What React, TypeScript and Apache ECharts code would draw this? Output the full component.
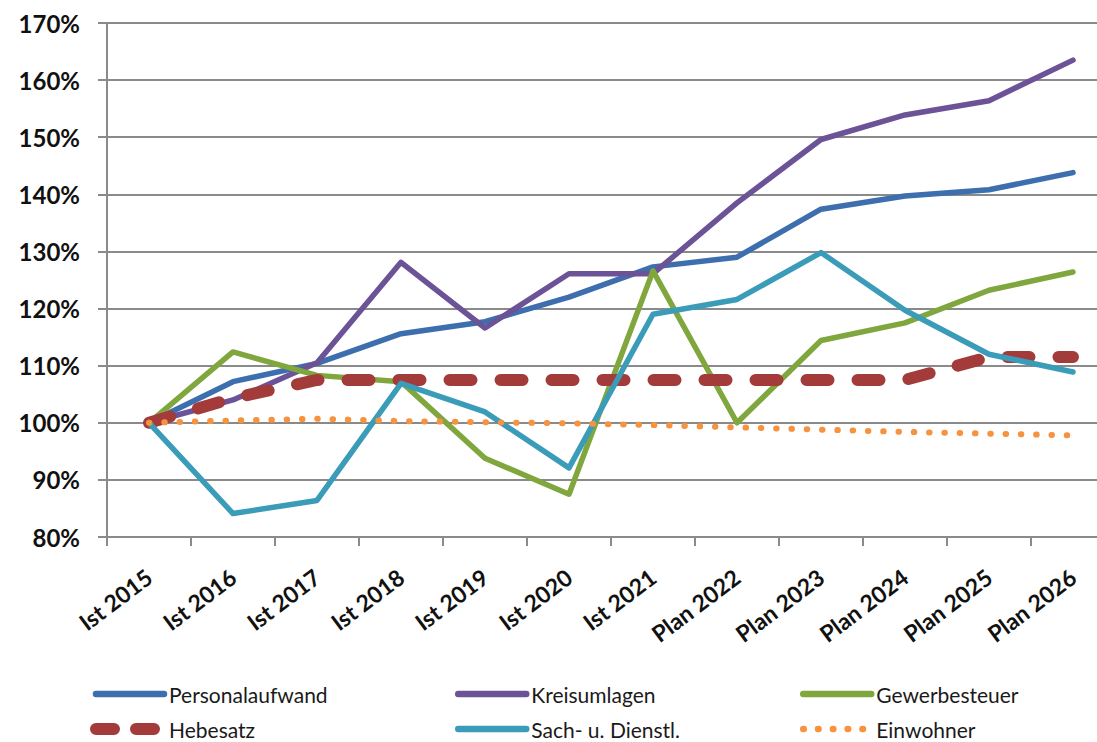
import React, { useEffect, useRef } from "react";
import * as echarts from "echarts";

const categories = [
  "Ist 2015", "Ist 2016", "Ist 2017", "Ist 2018", "Ist 2019", "Ist 2020",
  "Ist 2021", "Plan 2022", "Plan 2023", "Plan 2024", "Plan 2025", "Plan 2026",
];
const personalaufwand = [100, 107.2, 110.4, 115.6, 117.7, 122.0, 127.3, 129.0, 137.4, 139.7, 140.8, 143.8];
const kreisumlagen = [100, 104.0, 110.5, 128.1, 116.6, 126.1, 126.1, 138.5, 149.6, 153.9, 156.4, 163.5];
const gewerbesteuer = [100, 112.4, 108.3, 107.2, 93.8, 87.5, 126.6, 100.0, 114.4, 117.5, 123.2, 126.4];
const hebesatz = [100, 104.3, 107.5, 107.5, 107.5, 107.5, 107.5, 107.5, 107.5, 107.5, 111.5, 111.5];
const sachDienstl = [100, 84.1, 86.4, 106.9, 101.9, 92.1, 119.0, 121.6, 129.8, 119.7, 112.0, 108.9];
const einwohner = [100, 100.4, 100.7, 100.3, 100.1, 99.9, 99.6, 99.2, 98.8, 98.4, 98.1, 97.8];

const C_BLUE = "#3D6EAD";
const C_PURPLE = "#6C5296";
const C_GREEN = "#80A63E";
const C_CYAN = "#3A9CB8";
const C_RED = "#A23B3A";
const C_ORANGE = "#F7923F";

const FONT = "Lato, 'Open Sans', sans-serif";

export default function App() {
  const ref = useRef<HTMLDivElement>(null);
  useEffect(() => {
    if (!ref.current) return;
    const chart = echarts.init(ref.current, undefined, { renderer: "svg" });
    const solid = (name: string, data: number[], color: string) => ({
      name,
      type: "line",
      data,
      symbol: "none",
      smooth: false,
      color,
      lineStyle: { color, width: 5.5, cap: "round", join: "round" },
    });
    const legendText = { fontFamily: FONT, fontSize: 21, color: "#1a1a1a", lineHeight: 24 };
    const legendBase = {
      orient: "vertical",
      top: 682,
      itemWidth: 68,
      itemHeight: 14,
      itemGap: 11,
      textStyle: legendText,
      itemStyle: { opacity: 0 },
      selectedMode: false,
      padding: 0,
    };
    const solidLegendItem = (name: string) => ({
      name,
      itemStyle: { opacity: 0 },
      lineStyle: { width: 6.5, cap: "round" },
    });
    chart.setOption({
      animation: false,
      backgroundColor: "#ffffff",
      grid: {
        left: 107,
        right: 5,
        top: 23,
        bottom: 205,
        containLabel: false,
        outerBoundsMode: "none",
      },
      xAxis: {
        type: "category",
        data: categories,
        boundaryGap: true,
        axisLine: { show: true, lineStyle: { color: "#8a8a8a", width: 2 } },
        axisTick: { show: true, length: 9, alignWithLabel: false, lineStyle: { color: "#8a8a8a", width: 2 } },
        axisLabel: {
          interval: 0,
          rotate: 37,
          margin: 37,
          fontFamily: FONT,
          fontWeight: "bold",
          fontSize: 23,
          color: "#111",
        },
        splitLine: { show: false },
      },
      yAxis: {
        type: "value",
        min: 80,
        max: 170,
        interval: 10,
        axisLine: { show: true, lineStyle: { color: "#8a8a8a", width: 2 } },
        axisTick: { show: true, length: 9, lineStyle: { color: "#8a8a8a", width: 2 } },
        axisLabel: {
          formatter: "{value}%",
          margin: 27,
          fontFamily: FONT,
          fontWeight: "bold",
          fontSize: 24,
          color: "#111",
        },
        splitLine: { show: true, lineStyle: { color: "#8a8a8a", width: 2 } },
      },
      legend: [
        {
          ...legendBase,
          left: 90,
          data: [
            solidLegendItem("Personalaufwand"),
            {
              name: "Hebesatz",
              itemStyle: { opacity: 0 },
              lineStyle: { width: 12, type: [18, 22], cap: "round" },
            },
          ],
        },
        {
          ...legendBase,
          left: 455,
          data: [solidLegendItem("Kreisumlagen"), solidLegendItem("Sach- u. Dienstl.")],
        },
        {
          ...legendBase,
          left: 800,
          data: [
            solidLegendItem("Gewerbesteuer"),
            {
              name: "Einwohner",
              itemStyle: { opacity: 0 },
              lineStyle: { width: 6.5, type: [0.5, 14.3], cap: "round" },
            },
          ],
        },
      ],
      series: [
        solid("Personalaufwand", personalaufwand, C_BLUE),
        solid("Kreisumlagen", kreisumlagen, C_PURPLE),
        solid("Gewerbesteuer", gewerbesteuer, C_GREEN),
        {
          name: "Hebesatz",
          type: "line",
          data: hebesatz,
          symbol: "none",
          color: C_RED,
          lineStyle: { color: C_RED, width: 12, type: [22, 29], cap: "round", join: "round" },
        },
        solid("Sach- u. Dienstl.", sachDienstl, C_CYAN),
        {
          name: "Einwohner",
          type: "line",
          data: einwohner,
          symbol: "none",
          color: C_ORANGE,
          lineStyle: { color: C_ORANGE, width: 6, type: [0.5, 14.8], cap: "round", join: "round" },
        },
      ],
    });
    return () => chart.dispose();
  }, []);
  return (
    <div
      style={{
        position: "fixed",
        left: 0,
        top: 0,
        width: 1097,
        height: 742,
        overflow: "hidden",
        background: "#fff",
      }}
    >
      <div ref={ref} style={{ width: 1120, height: 742 }} />
    </div>
  );
}
